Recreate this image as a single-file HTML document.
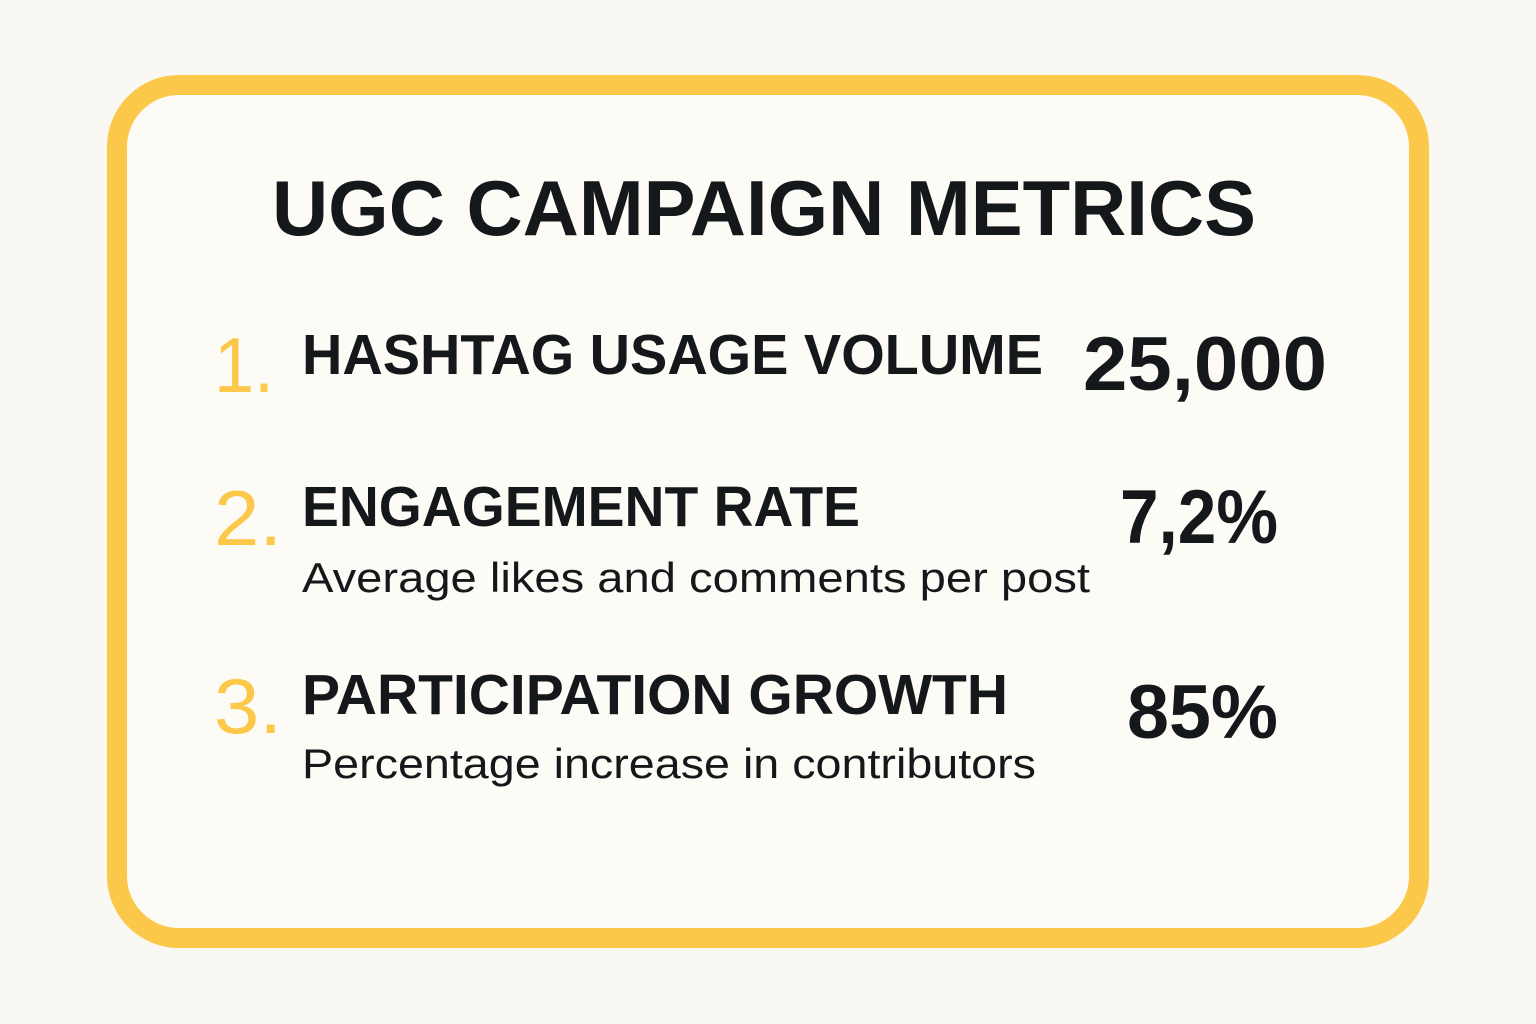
<!DOCTYPE html>
<html><head><meta charset="utf-8"><style>
html,body{margin:0;padding:0;background:#faf8f2;}
svg{display:block;}
text{font-family:"Liberation Sans",sans-serif;}
</style></head><body>
<svg width="1536" height="1024" viewBox="0 0 1536 1024">
<rect x="0" y="0" width="1536" height="1024" fill="#faf8f2"/>
<rect x="117" y="85" width="1302" height="853" rx="62" fill="#fdfbf6" stroke="#fbc84a" stroke-width="20"/>
<text x="272" y="235" font-size="78" font-weight="bold" fill="#15181b" textLength="984" lengthAdjust="spacingAndGlyphs">UGC CAMPAIGN METRICS</text>

<g>
<text x="214" y="392" font-size="78" fill="#fbc84a" textLength="60" lengthAdjust="spacingAndGlyphs">1.</text>
<text x="302" y="374" font-size="57" font-weight="bold" fill="#15181b" textLength="741" lengthAdjust="spacingAndGlyphs">HASHTAG USAGE VOLUME</text>
<text x="1083" y="390" font-size="76" font-weight="bold" fill="#15181b" textLength="244" lengthAdjust="spacingAndGlyphs">25,000</text>
</g>

<g>
<text x="214" y="545" font-size="78" fill="#fbc84a" textLength="68" lengthAdjust="spacingAndGlyphs">2.</text>
<text x="302" y="526" font-size="57" font-weight="bold" fill="#15181b" textLength="558" lengthAdjust="spacingAndGlyphs">ENGAGEMENT RATE</text>
<text x="302" y="592" font-size="42" fill="#15181b" textLength="788" lengthAdjust="spacingAndGlyphs">Average likes and comments per post</text>
<text x="1120" y="543" font-size="76" font-weight="bold" fill="#15181b" textLength="158" lengthAdjust="spacingAndGlyphs">7,2%</text>
</g>

<g>
<text x="214" y="733" font-size="78" fill="#fbc84a" textLength="68" lengthAdjust="spacingAndGlyphs">3.</text>
<text x="302" y="714" font-size="57" font-weight="bold" fill="#15181b" textLength="706" lengthAdjust="spacingAndGlyphs">PARTICIPATION GROWTH</text>
<text x="302" y="778" font-size="42" fill="#15181b" textLength="734" lengthAdjust="spacingAndGlyphs">Percentage increase in contributors</text>
<text x="1127" y="738" font-size="76" font-weight="bold" fill="#15181b" textLength="151" lengthAdjust="spacingAndGlyphs">85%</text>
</g>
</svg>
</body></html>
